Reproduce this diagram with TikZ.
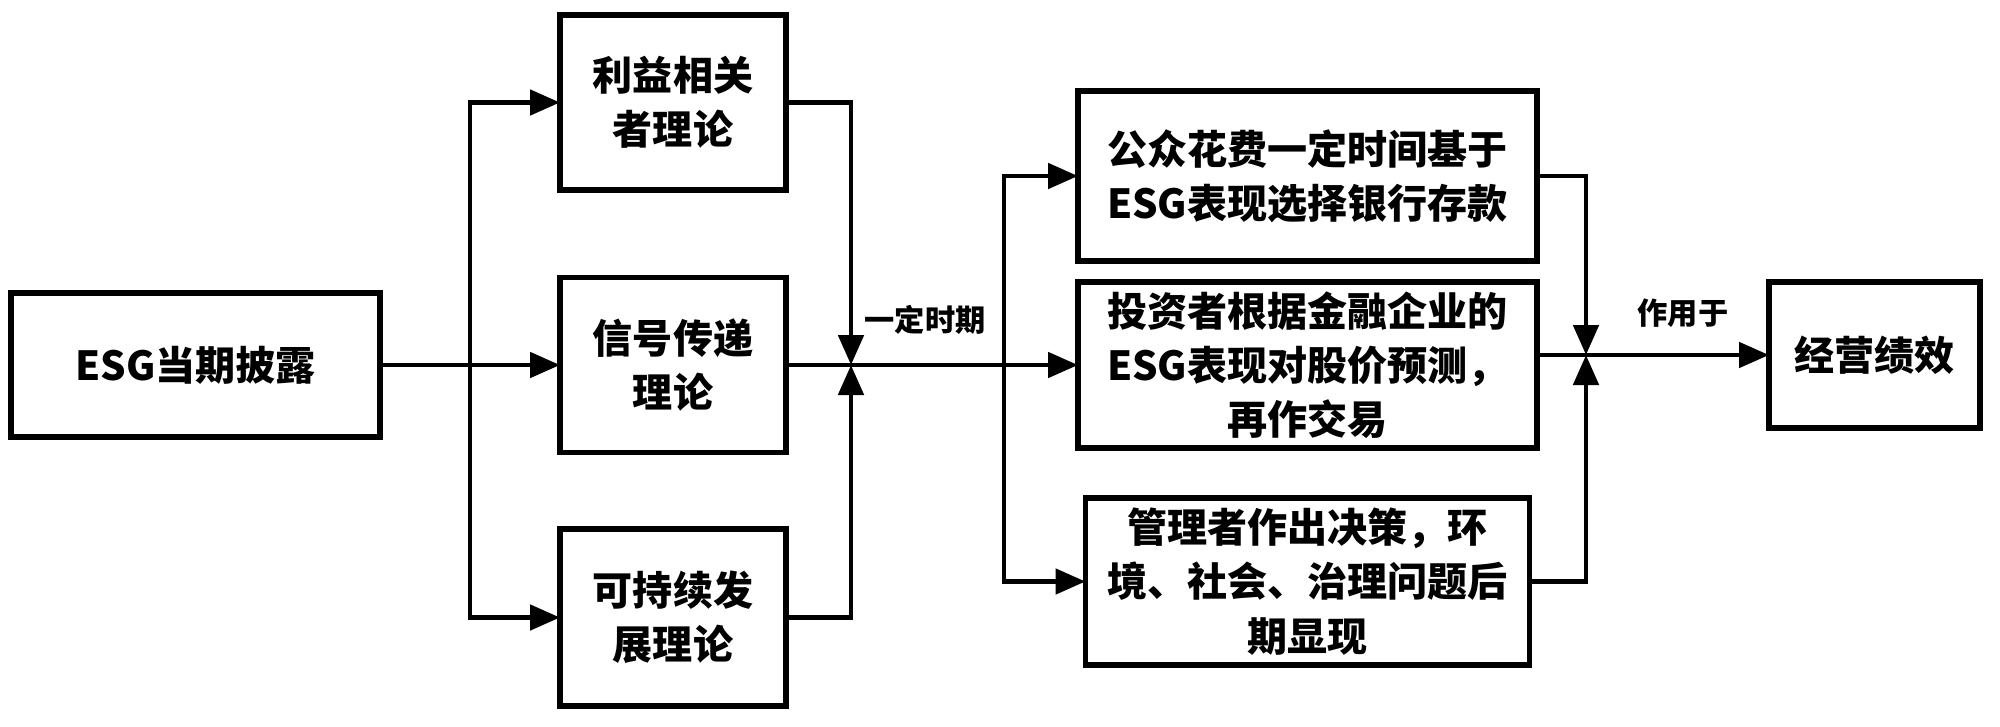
\documentclass[tikz,border=0pt]{standalone}
\usepackage{fontspec}
\setmainfont{Noto Sans CJK SC}
\usetikzlibrary{positioning, calc, arrows.meta}
\tikzset{
	node distance=1cm and 1.5cm,
	every text node part/.style= {
		align=center
	},
	box/.style= {
		rectangle,
		draw,
		line width=1.6pt,
		inner sep=0pt,
		outer sep=0pt,
		font=\fontsize{11.4pt}{15.4pt}\selectfont\bfseries
	},
	tag/.style={font=\fontsize{8.6pt}{10pt}\selectfont\bfseries, inner sep=0pt},
	wire/.style={line width=1.4pt},
	link/.style={wire, -{Triangle[length=3mm, width=2.5mm]}},
}

\begin{document}
\begin{tikzpicture}
		\useasboundingbox (0,0) rectangle (20,7.26);

		\node (esg) [box, minimum width=3.69cm, minimum height=1.44cm] at (1.955,3.61) {ESG当期披露};

		\node (signal) [box, minimum width=2.26cm, minimum height=1.75cm, right=1.8cm of esg] {信号传递\\理论};
		\node (stake) [box, minimum width=2.26cm, minimum height=1.75cm, above=0.875cm of signal] {利益相关\\者理论};
		\node (sustain) [box, minimum width=2.26cm, minimum height=1.77cm, below=0.765cm of signal] {可持续发\\展理论};

		\node (investor) [box, minimum width=4.59cm, minimum height=1.66cm, right=2.92cm of signal] {投资者根据金融企业的\\ESG表现对股价预测，\\再作交易};
		\node (public) [box, minimum width=4.59cm, minimum height=1.70cm, above=0.21cm of investor] {公众花费一定时间基于\\ESG表现选择银行存款};
		\node (manager) [box, minimum width=4.44cm, minimum height=1.67cm, below=0.50cm of investor] {管理者作出决策，环\\境、社会、治理问题后\\期显现};

		\node (perf) [box, minimum width=2.11cm, minimum height=1.46cm, right=2.32cm of investor, yshift=0.1cm] {经营绩效};

		\coordinate (fork) at ($(esg.east)!0.5!(signal.west)$);
		\coordinate (join) at ($(signal.east)+(0.65,0)$);
		\coordinate (fork2) at ($(investor.west)+(-0.74,0)$);
		\coordinate (join2) at ($(perf.west)+(-1.83,0)$);

		\node (period) [tag] at ($(join)+(0.74,0.45)$) {一定时期};
		\node (effect) [tag] at ($(join2)+(0.97,0.42)$) {作用于};

		% theories
		\draw[link] (esg.east) -- (signal.west);
		\draw[link] (fork) |- (stake.west);
		\draw[link] (fork) |- (sustain.west);

		\draw[link] (stake.east) -| (join);
		\draw[link] (sustain.east) -| (join);
		\draw[wire] (signal.east) -- (fork2);

		% channels
		\draw[link] (fork2) |- (public.west);
		\draw[link] (fork2) -- (investor.west);
		\draw[link] (fork2) |- (manager.west);

		\draw[link] (public.east) -| (join2);
		\draw[link] (manager.east) -| (join2);
		\draw[wire] (investor.east |- join2) -- (join2);
		\draw[link] (join2) -- (perf.west);
\end{tikzpicture}
\end{document}
